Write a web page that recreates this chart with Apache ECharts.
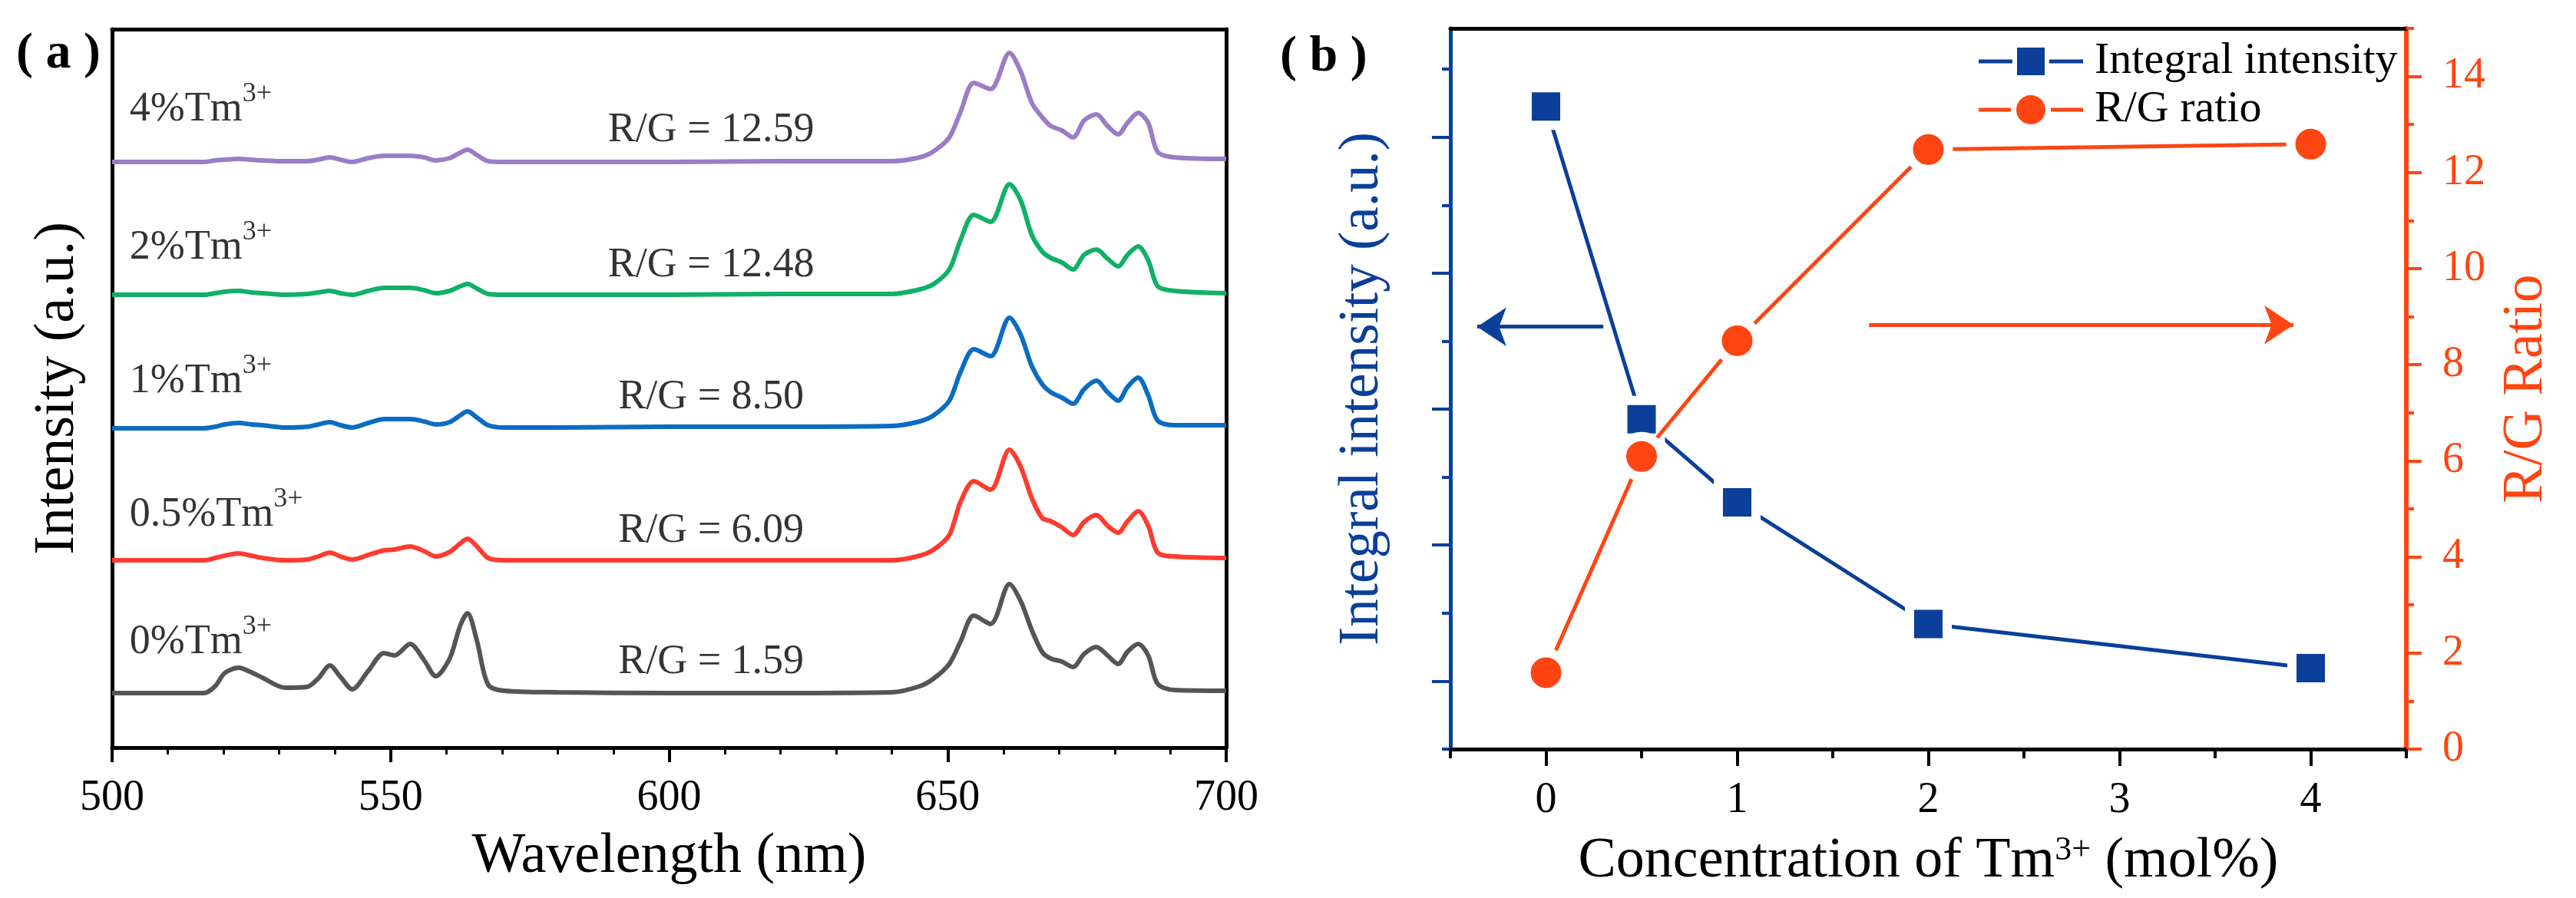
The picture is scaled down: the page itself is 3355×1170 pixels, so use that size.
<!DOCTYPE html>
<html>
<head>
<meta charset="utf-8">
<script src="https://cdn.jsdelivr.net/npm/echarts@6/dist/echarts.min.js"></script>
<style>
html,body{margin:0;padding:0;background:#ffffff;}
#chart{width:3355px;height:1170px;}
</style>
</head>
<body>
<div id="chart"></div>
<script>
// ---------- Panel (a): emission spectra (vertically offset, a.u.) ----------
const wavelengths = [500, 516.5, 518.5, 520.2, 522.7, 525, 527, 531, 535, 537, 539.1, 541, 543.1, 546, 548.8, 550.7, 553.5, 556, 558.1, 560.6, 562.5, 563.8, 565.5, 567.5, 570.4, 580, 600, 620, 640, 645, 647.5, 650.3, 652.3, 654.7, 657.7, 661.1, 663.1, 665.1, 667, 668.5, 670.5, 672.5, 674.5, 676.7, 678.7, 680.6, 682.3, 684.2, 686, 687.7, 690.7, 700];
const spec0 = [71, 71, 80, 97, 104, 98, 91, 78, 79, 90, 107, 92, 76, 100, 123, 120, 135, 114, 93, 116, 159, 175, 139, 82, 74, 72, 71, 71, 72, 80, 90, 109, 138, 172, 161, 213, 191, 153, 124, 116, 112, 105, 122, 131, 120, 109, 125, 135, 120, 83, 75, 74];
const spec05 = [244, 244, 247, 250, 253, 250, 247, 244, 245, 249, 254, 249, 245, 251, 257, 258, 262, 256, 249, 255, 266, 272, 262, 247, 244, 244, 244, 244, 244, 250, 258, 277, 320, 347, 336, 388, 366, 325, 299, 295, 287, 277, 294, 303, 289, 280, 295, 308, 289, 254, 249, 247];
const spec1 = [416, 416, 418, 421, 423, 421, 420, 417, 418, 421, 424, 420, 417, 423, 428, 428, 428, 425, 421, 424, 433, 438, 430, 420, 417, 417, 418, 418, 419, 425, 433, 452, 489, 519, 510, 560, 538, 497, 473, 463, 456, 448, 467, 478, 463, 452, 470, 482, 459, 426, 420, 420];
const spec2 = [590, 590, 592, 594, 595, 593, 592, 590, 591, 593, 595, 592, 590, 595, 599, 599, 599, 596, 592, 595, 601, 604, 598, 591, 590, 590, 590, 591, 591, 597, 604, 623, 661, 694, 685, 734, 713, 668, 646, 638, 632, 623, 642, 649, 637, 627, 642, 653, 635, 601, 595, 592];
const spec4 = [763, 763, 765, 766, 767, 766, 765, 764, 764, 766, 769, 766, 763, 768, 771, 771, 771, 769, 765, 768, 775, 779, 772, 764, 763, 763, 763, 764, 764, 769, 777, 795, 828, 866, 858, 905, 881, 840, 821, 810, 804, 795, 817, 825, 810, 799, 814, 827, 814, 776, 769, 767];
const specColors = ['#555555', '#FF3B2F', '#0B6CC2', '#10B068', '#9A7DC6'];

const concLabels = ['0%', '0.5%', '1%', '2%', '4%'];
const concLabelY = [137, 303, 477, 651, 831];
const concLabelX = 503.2;
const rgTexts = ['R/G = 1.59', 'R/G = 6.09', 'R/G = 8.50', 'R/G = 12.48', 'R/G = 12.59'];
const rgLabelY = [111, 282, 456, 628, 804];
const rgLabelX = 607.6;

// ---------- Panel (b): integral intensity & R/G ratio ----------
const tmConc = [0, 0.5, 1, 2, 4];
const integralIntensity = [9.45, 4.85, 3.63, 1.84, 1.19];
const rgRatio = [1.59, 6.09, 8.50, 12.48, 12.59];
const xMajorB = [0, 1, 2, 3, 4];
const xMinorB = [-0.5, 0.5, 1.5, 2.5, 3.5, 4.5];
const leftMajorB = [1, 3, 5, 7, 9];
const leftMinorB = [0, 2, 4, 6, 8, 10];
const rightMajorB = [0, 2, 4, 6, 8, 10, 12, 14];
const rightMinorB = [1, 3, 5, 7, 9, 11, 13, 15];
// arrows (in R/G-axis coordinates)
const arrowLeft = [[0.30, 8.79], [-0.36, 8.79]];
const arrowRight = [[1.69, 8.83], [3.91, 8.83]];

const FONT = "'Liberation Serif', 'Times New Roman', serif";
const BLUE = '#0A3F9A';
const ORANGE = '#FF4512';

// legend icons: line – symbol – line, with small gaps (Origin style)
const ICON_SQUARE = 'path://M0,19.5L44,19.5L44,24.5L0,24.5Z M50,4L86,4L86,40L50,40Z M92,19.5L136,19.5L136,24.5L92,24.5Z';
const ICON_CIRCLE = 'path://M0,19.5L42,19.5L42,24.5L0,24.5Z M87,22A19,19,0,1,1,49,22A19,19,0,1,1,87,22Z M94,19.5L136,19.5L136,24.5L94,24.5Z';

const chart = echarts.init(document.getElementById('chart'), null, {renderer: 'canvas'});

const specSeries = [spec0, spec05, spec1, spec2, spec4].map((s, k) => ({
  type: 'line',
  xAxisIndex: 0, yAxisIndex: 0,
  data: wavelengths.map((w, i) => [w, s[i]]),
  showSymbol: false,
  symbol: 'none',
  smooth: 0.3,
  lineStyle: {color: specColors[k], width: 6},
  silent: true,
  z: 3
}));

function frameAxis(extra) {
  return Object.assign({
    type: 'value',
    axisLine: {show: true, onZero: false, lineStyle: {color: '#000', width: 5}},
    axisTick: {show: false}, axisLabel: {show: false}, splitLine: {show: false}
  }, extra);
}

const option = {
  animation: false,
  backgroundColor: '#ffffff',
  textStyle: {fontFamily: FONT},
  title: [
    {text: '( a )', left: 16, top: 33, textStyle: {fontFamily: FONT, fontSize: 66, fontWeight: 'bold', color: '#000', lineHeight: 66}},
    {text: '( b )', left: 1662, top: 37, textStyle: {fontFamily: FONT, fontSize: 66, fontWeight: 'bold', color: '#000', lineHeight: 66}}
  ],
  legend: {
    orient: 'vertical',
    left: 2572, top: 46,
    itemWidth: 136, itemHeight: 38, itemGap: 5,
    itemStyle: {borderWidth: 0},
    textStyle: {fontFamily: FONT, fontSize: 58, color: '#000', lineHeight: 58, padding: [0, 0, 0, 10]},
    data: [
      {name: 'Integral intensity', icon: ICON_SQUARE, itemStyle: {color: BLUE, borderWidth: 0}},
      {name: 'R/G ratio', icon: ICON_CIRCLE, itemStyle: {color: ORANGE, borderWidth: 0}}
    ]
  },
  grid: [
    {left: 146, top: 38, width: 1451, height: 936, containLabel: false},
    {left: 1889, top: 37, width: 1245, height: 939, containLabel: false}
  ],
  xAxis: [
    { // 0: panel a bottom
      type: 'value', gridIndex: 0, position: 'bottom', min: 500, max: 700, interval: 50,
      axisLine: {show: true, onZero: false, lineStyle: {color: '#000', width: 5}},
      axisTick: {show: true, length: 19, lineStyle: {width: 4, color: '#000'}},
      minorTick: {show: true, splitNumber: 5, length: 9, lineStyle: {width: 3, color: '#000'}},
      splitLine: {show: false}, minorSplitLine: {show: false},
      axisLabel: {fontFamily: FONT, fontSize: 56, color: '#000', margin: 38, lineHeight: 56},
      name: 'Wavelength (nm)', nameLocation: 'middle', nameGap: 106,
      nameTextStyle: {fontFamily: FONT, fontSize: 74, color: '#000', lineHeight: 74}
    },
    frameAxis({gridIndex: 0, position: 'top', min: 500, max: 700}), // 1
    { // 2: panel b bottom, major ticks + labels
      type: 'value', gridIndex: 1, position: 'bottom', min: -0.5, max: 4.5,
      axisLine: {show: true, onZero: false, lineStyle: {color: '#000', width: 5}},
      axisTick: {show: true, length: 22, customValues: xMajorB, lineStyle: {width: 4, color: '#000'}},
      axisLabel: {fontFamily: FONT, fontSize: 56, color: '#000', margin: 39, lineHeight: 56, customValues: xMajorB},
      splitLine: {show: false},
      name: '{n|Concentration of Tm}{s|3+}{n| (mol%)}', nameLocation: 'middle', nameGap: 110,
      nameTextStyle: {
        fontFamily: FONT, fontSize: 74, color: '#000', lineHeight: 74,
        rich: {
          n: {fontFamily: FONT, fontSize: 74, color: '#000', lineHeight: 74},
          s: {fontFamily: FONT, fontSize: 44, color: '#000', lineHeight: 44, verticalAlign: 'top'}
        }
      }
    },
    { // 3: panel b bottom, minor ticks
      type: 'value', gridIndex: 1, position: 'bottom', min: -0.5, max: 4.5,
      axisLine: {show: false, onZero: false},
      axisTick: {show: true, length: 12, customValues: xMinorB, lineStyle: {width: 4, color: '#000'}},
      axisLabel: {show: false}, splitLine: {show: false}
    },
    frameAxis({gridIndex: 1, position: 'top', min: -0.5, max: 4.5}) // 4
  ],
  yAxis: [
    { // 0: panel a left
      type: 'value', gridIndex: 0, position: 'left', min: 0, max: 936,
      axisLine: {show: true, onZero: false, lineStyle: {color: '#000', width: 5}},
      axisTick: {show: false}, axisLabel: {show: false}, splitLine: {show: false},
      name: 'Intensity (a.u.)', nameLocation: 'middle', nameRotate: 90, nameGap: 33,
      nameTextStyle: {fontFamily: FONT, fontSize: 74, color: '#000', lineHeight: 74}
    },
    frameAxis({gridIndex: 0, position: 'right', min: 0, max: 936}), // 1
    { // 2: panel b left, long ticks
      type: 'value', gridIndex: 1, position: 'left', min: 0, max: 10.6,
      axisLine: {show: true, onZero: false, lineStyle: {color: BLUE, width: 5}},
      axisTick: {show: true, length: 24, customValues: leftMajorB, lineStyle: {width: 4, color: BLUE}},
      axisLabel: {show: false}, splitLine: {show: false},
      name: 'Integral intensity (a.u.)', nameLocation: 'middle', nameRotate: 90, nameGap: 78,
      nameTextStyle: {fontFamily: FONT, fontSize: 73, color: BLUE, lineHeight: 73}
    },
    { // 3: panel b left, short ticks
      type: 'value', gridIndex: 1, position: 'left', min: 0, max: 10.6,
      axisLine: {show: false, onZero: false},
      axisTick: {show: true, length: 11, customValues: leftMinorB, lineStyle: {width: 4, color: BLUE}},
      axisLabel: {show: false}, splitLine: {show: false}
    },
    { // 4: panel b right (R/G ratio)
      type: 'value', gridIndex: 1, position: 'right', min: 0, max: 15,
      axisLine: {show: true, onZero: false, lineStyle: {color: ORANGE, width: 6}},
      axisTick: {show: true, length: 20, customValues: rightMajorB, lineStyle: {width: 4, color: ORANGE}},
      axisLabel: {fontFamily: FONT, fontSize: 56, color: ORANGE, margin: 47, lineHeight: 56, customValues: rightMajorB},
      splitLine: {show: false},
      name: 'R/G Ratio', nameLocation: 'middle', nameRotate: 90, nameGap: 120,
      nameTextStyle: {fontFamily: FONT, fontSize: 73, color: ORANGE, lineHeight: 73}
    },
    { // 5: panel b right, minor ticks
      type: 'value', gridIndex: 1, position: 'right', min: 0, max: 15,
      axisLine: {show: false, onZero: false},
      axisTick: {show: true, length: 10, customValues: rightMinorB, lineStyle: {width: 4, color: ORANGE}},
      axisLabel: {show: false}, splitLine: {show: false}
    }
  ],
  series: specSeries.concat([
    { // concentration labels
      type: 'scatter', xAxisIndex: 0, yAxisIndex: 0, silent: true,
      symbolSize: 1, itemStyle: {color: 'rgba(0,0,0,0)'},
      data: concLabelY.map((y, i) => [concLabelX, y]),
      label: {
        show: true, position: [0, 0], align: 'left', verticalAlign: 'middle',
        formatter: p => '{m|' + concLabels[p.dataIndex] + 'Tm}{s|3+}',
        rich: {
          m: {fontFamily: FONT, fontSize: 54, color: '#000', lineHeight: 76},
          s: {fontFamily: FONT, fontSize: 36, color: '#000', lineHeight: 36, verticalAlign: 'top'}
        }
      },
      z: 5
    },
    { // R/G labels
      type: 'scatter', xAxisIndex: 0, yAxisIndex: 0, silent: true,
      symbolSize: 1, itemStyle: {color: 'rgba(0,0,0,0)'},
      data: rgLabelY.map((y, i) => [rgLabelX, y]),
      label: {
        show: true, position: [0, 0], align: 'center', verticalAlign: 'middle',
        formatter: p => rgTexts[p.dataIndex],
        fontFamily: FONT, fontSize: 54, color: '#000', lineHeight: 54
      },
      z: 5
    },
    {
      name: 'Integral intensity', type: 'line', xAxisIndex: 2, yAxisIndex: 2,
      data: tmConc.map((x, i) => [x, integralIntensity[i]]),
      symbol: 'rect', symbolSize: 49,
      lineStyle: {color: BLUE, width: 5},
      itemStyle: {color: BLUE, borderColor: '#ffffff', borderWidth: 12},
      z: 3
    },
    {
      name: 'R/G ratio', type: 'line', xAxisIndex: 2, yAxisIndex: 4,
      data: tmConc.map((x, i) => [x, rgRatio[i]]),
      symbol: 'circle', symbolSize: 52,
      lineStyle: {color: ORANGE, width: 5},
      itemStyle: {color: ORANGE, borderColor: '#ffffff', borderWidth: 12},
      z: 4,
      markLine: {
        silent: true, animation: false,
        symbol: ['none', 'arrow'], symbolSize: 38,
        label: {show: false},
        data: [
          [{coord: arrowLeft[0], lineStyle: {color: BLUE, width: 5, type: 'solid'}, itemStyle: {color: BLUE}}, {coord: arrowLeft[1]}],
          [{coord: arrowRight[0], lineStyle: {color: ORANGE, width: 5, type: 'solid'}, itemStyle: {color: ORANGE}}, {coord: arrowRight[1]}]
        ]
      }
    }
  ])
};

chart.setOption(option);
</script>
</body>
</html>
